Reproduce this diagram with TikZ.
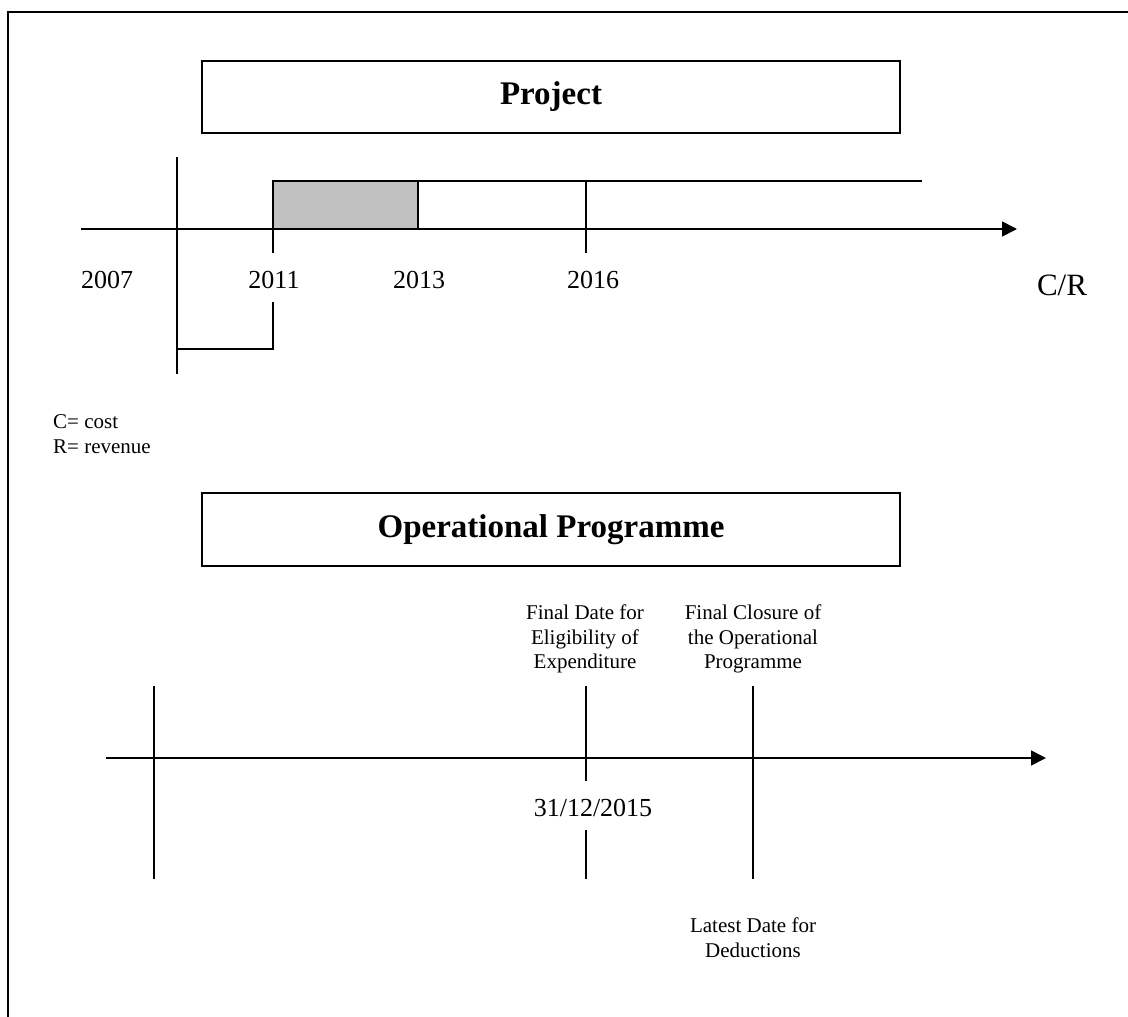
\documentclass[tikz,border=0pt]{standalone}
\usepackage{fontspec}
\setmainfont{Liberation Serif}
\usetikzlibrary{arrows.meta}
\definecolor{shade}{RGB}{192,192,192}
\tikzset{
  titlebox/.style={draw, line width=2pt, minimum width=698pt, minimum height=72pt, font=\fontsize{33}{38}\selectfont\bfseries},
  year/.style={anchor=base, inner sep=0pt, font=\fontsize{26}{30}\selectfont},
  note/.style={anchor=north, inner sep=0pt, align=center, font=\fontsize{21}{24.5}\selectfont},
  axis/.style={line width=1.7pt, -{Triangle[length=15pt,width=15pt]}},
  tick/.style={line width=1.7pt}
}
\begin{document}
\begin{tikzpicture}[x=1pt, y=-1pt]
    \useasboundingbox (0,0) rectangle (1128,1017);
    \draw[line width=2.5pt] (8,1017) |- (1128,12);

    \node[titlebox] (project) at (551,97) {Project};
    \coordinate (top0) at (81,229);
    \coordinate (top1) at (1017,229);
    \filldraw[tick, fill=shade] (273,181) rectangle (418,229);
    \draw[tick] (418,181) -- (922,181);
    \draw[axis] (top0) -- (top1);
    \draw[tick] (177,157) -- (177,374);
    \draw[tick] (273,229) -- (273,253);
    \draw[tick] (273,302) -- (273,349) -- (177,349);
    \draw[tick] (586,181) -- (586,253);
    \node[year] (y2007) at (107,288) {2007};
    \node[year] (y2011) at (274,288) {2011};
    \node[year] (y2013) at (419,288) {2013};
    \node[year] (y2016) at (593,288) {2016};
    \node[year, font=\fontsize{31}{36}\selectfont] (cr) at (1062,295) {C/R};
    \node[anchor=base west, inner sep=0pt, font=\fontsize{21}{25}\selectfont] (cost) at (53,428) {C= cost};
    \node[anchor=base west, inner sep=0pt, font=\fontsize{21}{25}\selectfont] (revenue) at (53,453) {R= revenue};

    \node[titlebox, minimum height=73pt] (programme) at (551,529.5) {Operational Programme};
    \coordinate (bot0) at (106,758);
    \coordinate (bot1) at (1046,758);
    \draw[axis] (bot0) -- (bot1);
    \draw[tick] (154,686) -- (154,879);
    \draw[tick] (586,686) -- (586,781);
    \draw[tick] (586,830) -- (586,879);
    \draw[tick] (753,686) -- (753,879);
    \node[note] (eligibility) at (585,605) {Final Date for\\Eligibility of\\Expenditure};
    \node[note] (closure) at (753,605) {Final Closure of\\the Operational\\Programme};
    \node[year] (date) at (593,816) {31/12/2015};
    \node[note] (deductions) at (753,918) {Latest Date for\\Deductions};
\end{tikzpicture}
\end{document}
